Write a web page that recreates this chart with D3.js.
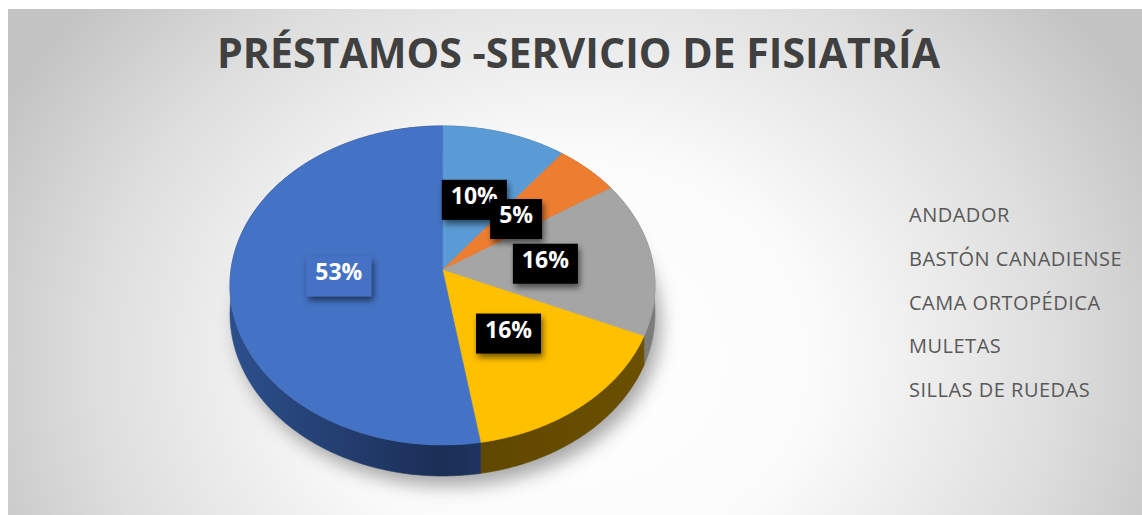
<!DOCTYPE html>
<html>
<head>
<meta charset="utf-8">
<script src="https://cdn.jsdelivr.net/npm/d3@7/dist/d3.min.js"></script>
<style>
  html, body { margin: 0; padding: 0; background: #ffffff; }
  svg { display: block; }
</style>
</head>
<body>
<svg id="chart" width="1142" height="515"></svg>
<script>
// ---- data ----
const title = "PRÉSTAMOS -SERVICIO DE FISIATRÍA";
const categories = ["ANDADOR", "BASTÓN CANADIENSE", "CAMA ORTOPÉDICA", "MULETAS", "SILLAS DE RUEDAS"];
const values = [10.4, 5.4, 15.8, 15.8, 52.6];

// ---- styles ----
const topColors  = ["#5b9bd5", "#ed7d31", "#a5a5a5", "#ffc000", "#4472c4"];
const sideColors = ["#3a6a99", "#a0521c", "#7c7c7c", "#6b5000", "#2c4f8c"];
const sideDark   = ["#2c5480", "#7f4010", "#666666", "#5e4600", "#1b2e55"];
const labelFill  = ["#000000", "#000000", "#000000", "#000000", "#4472c4"];

const svg = d3.select("#chart");
const W = 1142, H = 515;
const defs = svg.append("defs");

// background gradient
const bg = defs.append("radialGradient").attr("id", "bg")
  .attr("gradientUnits", "userSpaceOnUse")
  .attr("cx", 575).attr("cy", 360).attr("r", 640)
  .attr("gradientTransform", "translate(575,360) scale(1,0.85) translate(-575,-360)");
bg.append("stop").attr("offset", "0").attr("stop-color", "#ffffff");
bg.append("stop").attr("offset", "0.38").attr("stop-color", "#fbfbfb");
bg.append("stop").attr("offset", "0.75").attr("stop-color", "#dedede");
bg.append("stop").attr("offset", "1").attr("stop-color", "#c4c4c4");

svg.append("rect").attr("x", 8).attr("y", 9).attr("width", W - 8).attr("height", H - 9)
  .attr("fill", "url(#bg)");

// filters
const blur = defs.append("filter").attr("id", "pieShadow")
  .attr("x", "-20%").attr("y", "-20%").attr("width", "140%").attr("height", "140%");
blur.append("feGaussianBlur").attr("stdDeviation", 9);

const lblShadow = defs.append("filter").attr("id", "lblShadow")
  .attr("x", "-30%").attr("y", "-30%").attr("width", "160%").attr("height", "180%");
lblShadow.append("feGaussianBlur").attr("in", "SourceAlpha").attr("stdDeviation", 3).attr("result", "b");
lblShadow.append("feOffset").attr("in", "b").attr("dx", 2).attr("dy", 4).attr("result", "o");
lblShadow.append("feComponentTransfer").attr("in", "o").attr("result", "s")
  .append("feFuncA").attr("type", "linear").attr("slope", 0.55);
const m = lblShadow.append("feMerge");
m.append("feMergeNode").attr("in", "s");
m.append("feMergeNode").attr("in", "SourceGraphic");

// ---- title ----
svg.append("text")
  .attr("x", 578.5).attr("y", 68)
  .attr("text-anchor", "middle")
  .attr("font-family", "'Open Sans', 'Noto Sans', sans-serif")
  .attr("font-weight", "bold")
  .attr("font-size", 42)
  .attr("fill", "#404040")
  .attr("textLength", 723)
  .attr("lengthAdjust", "spacingAndGlyphs")
  .text(title);

// ---- 3D pie ----
const cx = 442.5, cy = 270, A = 211.5, B = 158, K = 0.097, D = 28;
const pie = d3.pie().sort(null).value(d => d)(values);
const total = d3.sum(values);

function proj(a, r, z) {
  const x = r * Math.sin(a), y = -r * Math.cos(a);
  const f = 1 / (1 - K * y);
  return [cx + A * x * f, cy + B * y * f + D * z * f];
}
function arcPoints(a0, a1, r, z) {
  const n = Math.max(2, Math.ceil((a1 - a0) / 0.01));
  const pts = [];
  for (let i = 0; i <= n; i++) pts.push(proj(a0 + (a1 - a0) * i / n, r, z));
  return pts;
}
const line = d3.line();

// shadow under pie
const shadowPts = arcPoints(0, 2 * Math.PI, 1.0, 1).map(p => [p[0] + 6, p[1] + 10]);
svg.append("path")
  .attr("d", line(shadowPts) + "Z")
  .attr("fill", "#8a8a8a")
  .attr("opacity", 0.75)
  .attr("filter", "url(#pieShadow)");

// side gradients
pie.forEach((d, i) => {
  const g = defs.append("linearGradient").attr("id", "side" + i)
    .attr("gradientUnits", "userSpaceOnUse")
    .attr("x1", cx - A).attr("y1", 0).attr("x2", cx + A).attr("y2", 0);
  g.append("stop").attr("offset", "0").attr("stop-color", sideColors[i]);
  g.append("stop").attr("offset", "0.5").attr("stop-color", sideDark[i]);
  g.append("stop").attr("offset", "1").attr("stop-color", sideColors[i]);
});

const gSide = svg.append("g");
pie.forEach((d, i) => {
  const top = arcPoints(d.startAngle, d.endAngle, 1, 0);
  const bot = arcPoints(d.startAngle, d.endAngle, 1, 1).reverse();
  gSide.append("path")
    .attr("d", line(top.concat(bot)) + "Z")
    .attr("fill", "url(#side" + i + ")")
    .attr("stroke", "url(#side" + i + ")")
    .attr("stroke-width", 0.6);
});

const gTop = svg.append("g");
pie.forEach((d, i) => {
  const pts = [proj(0, 0, 0)].concat(arcPoints(d.startAngle, d.endAngle, 1, 0));
  gTop.append("path")
    .attr("d", line(pts) + "Z")
    .attr("fill", topColors[i])
    .attr("stroke", topColors[i])
    .attr("stroke-width", 0.6);
});

// ---- data labels ----
const fmt = d3.format(".0%");
const gLbl = svg.append("g");
pie.forEach((d, i) => {
  const mid = (d.startAngle + d.endAngle) / 2;
  const [lx, ly] = proj(mid, 0.49, 0);
  const g = gLbl.append("g").attr("transform", `translate(${lx},${ly})`);
  const rect = g.append("rect").attr("fill", labelFill[i]).attr("filter", "url(#lblShadow)");
  const t = g.append("text")
    .attr("text-anchor", "middle")
    .attr("y", 4)
    .attr("font-family", "'Open Sans', 'Noto Sans', sans-serif")
    .attr("font-weight", "bold")
    .attr("font-size", 23)
    .attr("fill", "#ffffff")
    .text(fmt(d.data / total));
  const w = t.node().getComputedTextLength() + 18;
  rect.attr("x", -w / 2).attr("y", -20).attr("width", w).attr("height", 40);
});

// ---- legend (text only) ----
const legY = d3.scalePoint().domain(categories).range([222, 397]);
svg.append("g").selectAll("text").data(categories).join("text")
  .attr("x", 909)
  .attr("y", d => legY(d))
  .attr("font-family", "'Open Sans', 'Noto Sans', sans-serif")
  .attr("font-size", 20)
  .attr("letter-spacing", 0.5)
  .attr("fill", "#595959")
  .text(d => d);
</script>
</body>
</html>
